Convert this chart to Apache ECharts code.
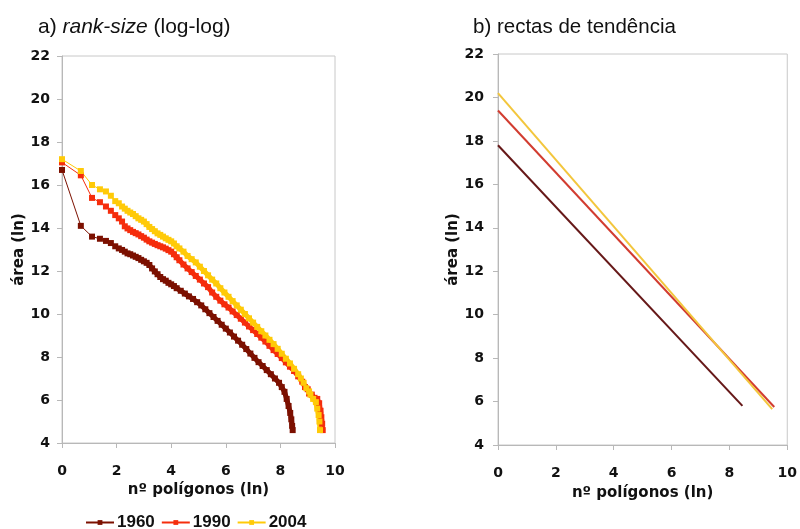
<!DOCTYPE html>
<html lang="pt">
<head>
    <meta charset="UTF-8">
    <script src="https://cdn.jsdelivr.net/npm/echarts@6/dist/echarts.min.js"></script>
    <title>rank-size</title>
    <style type="text/css">
        html, body { margin: 0; padding: 0; background: #fff; }
        #main { width: 800px; height: 529px; }
    </style>
</head>
<body>
<div id="main"></div>
<script type="text/javascript">
    // a) rank-size: [ln(rank), ln(area)]
    const years = ['1960', '1990', '2004'];

    const rank1960 = [[0,16.7],[0.69,14.1],[1.1,13.6],[1.39,13.5],[1.61,13.4],[1.79,13.3],[1.95,13.15],[2.08,13.05],[2.2,12.98],
        [2.3,12.9],[2.4,12.82],[2.5,12.78],[2.6,12.72],[2.7,12.66],[2.8,12.6],[2.9,12.52],[3.0,12.45],[3.1,12.38],[3.2,12.28],
        [3.3,12.12],[3.4,11.98],[3.5,11.85],[3.6,11.72],[3.7,11.62],[3.8,11.55],[3.9,11.45],[4.0,11.38],[4.1,11.3],[4.2,11.2],
        [4.35,11.08],[4.5,10.95],[4.65,10.82],[4.8,10.7],[4.95,10.55],[5.1,10.4],[5.25,10.22],[5.4,10.04],[5.55,9.86],[5.7,9.68],
        [5.85,9.5],[6.0,9.32],[6.15,9.14],[6.3,8.95],[6.45,8.76],[6.6,8.57],[6.75,8.37],[6.9,8.16],[7.05,7.96],[7.2,7.76],
        [7.35,7.58],[7.5,7.39],[7.65,7.2],[7.8,7.0],[7.95,6.8],[8.05,6.6],[8.15,6.38],[8.23,6.05],[8.3,5.72],[8.36,5.4],
        [8.4,5.1],[8.43,4.8],[8.45,4.6]];

    const rank1990 = [[0,17.05],[0.69,16.45],[1.1,15.4],[1.39,15.2],[1.61,15.0],[1.79,14.8],[1.95,14.6],[2.08,14.45],[2.2,14.3],
        [2.3,14.08],[2.4,13.98],[2.5,13.9],[2.6,13.82],[2.7,13.76],[2.8,13.7],[2.9,13.62],[3.0,13.55],[3.1,13.46],[3.2,13.38],
        [3.3,13.32],[3.4,13.26],[3.5,13.2],[3.6,13.15],[3.7,13.1],[3.8,13.04],[3.9,12.97],[4.0,12.9],[4.1,12.78],[4.2,12.64],
        [4.3,12.5],[4.45,12.3],[4.6,12.12],[4.75,11.95],[4.9,11.77],[5.05,11.6],[5.2,11.42],[5.35,11.25],[5.5,11.0],[5.65,10.8],
        [5.8,10.62],[5.95,10.45],[6.1,10.3],[6.25,10.12],[6.4,9.95],[6.55,9.78],[6.7,9.6],[6.85,9.42],[7.0,9.25],[7.15,9.07],
        [7.3,8.9],[7.45,8.72],[7.6,8.52],[7.75,8.32],[7.9,8.14],[8.05,7.95],[8.2,7.75],[8.35,7.55],[8.5,7.35],[8.65,7.1],
        [8.8,6.85],[8.9,6.6],[9.0,6.5],[9.05,6.3],[9.15,6.25],[9.25,6.1],[9.35,6.05],[9.42,5.85],[9.47,5.5],[9.5,5.2],
        [9.53,4.9],[9.55,4.6]];

    const rank2004 = [[0,17.2],[0.69,16.65],[1.1,16.0],[1.39,15.8],[1.61,15.7],[1.79,15.5],[1.95,15.25],[2.08,15.15],[2.2,15.0],
        [2.3,14.9],[2.4,14.8],[2.5,14.72],[2.6,14.65],[2.7,14.55],[2.8,14.45],[2.9,14.38],[3.0,14.3],[3.1,14.18],[3.2,14.05],
        [3.3,13.95],[3.4,13.85],[3.5,13.75],[3.6,13.68],[3.7,13.6],[3.8,13.52],[3.9,13.45],[4.0,13.38],[4.1,13.28],[4.2,13.15],
        [4.3,13.05],[4.45,12.9],[4.6,12.7],[4.75,12.55],[4.9,12.4],[5.05,12.2],[5.2,12.0],[5.35,11.8],[5.5,11.6],[5.65,11.42],
        [5.8,11.2],[5.95,11.0],[6.1,10.8],[6.25,10.6],[6.4,10.4],[6.55,10.2],[6.7,10.0],[6.85,9.8],[7.0,9.6],[7.15,9.4],
        [7.3,9.2],[7.45,9.0],[7.6,8.8],[7.75,8.6],[7.9,8.38],[8.05,8.15],[8.2,7.92],[8.35,7.7],[8.5,7.45],[8.65,7.2],
        [8.75,7.0],[8.85,6.8],[8.95,6.55],[9.05,6.4],[9.1,6.25],[9.2,6.05],[9.3,5.9],[9.35,5.6],[9.4,5.3],[9.43,5.0],[9.45,4.6]];

    // b) rectas de tendência (start / end points)
    const trend1960 = [[0,17.8],[8.45,5.8]];
    const trend1990 = [[0,19.4],[9.55,5.75]];
    const trend2004 = [[0,20.2],[9.48,5.65]];

    const xTicks = [0, 2, 4, 6, 8, 10];
    const yTicks = [4, 6, 8, 10, 12, 14, 16, 18, 20, 22];

    const rankColors = ['#7c1000', '#f52d0c', '#ffca08'];
    const trendColors = ['#661818', '#d23c30', '#f3c63c'];

    const font = 'Liberation Sans, Arial, sans-serif';
    const boldFont = 'DejaVu Sans, Liberation Sans, sans-serif';

    function makeX(gridIndex, nameGap, margin) {
        return {
            type: 'value', gridIndex: gridIndex,
            min: xTicks[0], max: xTicks[xTicks.length - 1], interval: 2,
            name: 'nº polígonos (ln)', nameLocation: 'middle', nameGap: nameGap,
            nameTextStyle: { fontFamily: boldFont, fontWeight: 'bold', fontSize: 15, color: '#111' },
            axisLine: { lineStyle: { color: '#b8b8b8' } },
            axisTick: { show: true, length: 5, lineStyle: { color: '#b8b8b8' } },
            axisLabel: { fontFamily: boldFont, fontWeight: 'bold', fontSize: 14, color: '#111', margin: margin },
            splitLine: { show: false }
        };
    }

    function makeY(gridIndex, nameGap, margin) {
        return {
            type: 'value', gridIndex: gridIndex,
            min: yTicks[0], max: yTicks[yTicks.length - 1], interval: 2,
            name: 'área (ln)', nameLocation: 'middle', nameGap: nameGap,
            nameTextStyle: { fontFamily: boldFont, fontWeight: 'bold', fontSize: 15, color: '#111' },
            axisLine: { show: true, lineStyle: { color: '#b8b8b8' } },
            axisTick: { show: true, length: 5, lineStyle: { color: '#b8b8b8' } },
            axisLabel: { fontFamily: boldFont, fontWeight: 'bold', fontSize: 14, color: '#111', margin: margin },
            splitLine: { show: false }
        };
    }

    const series = [];
    [rank1960, rank1990, rank2004].forEach(function (d, i) {
        series.push({
            name: years[i], type: 'line', xAxisIndex: 0, yAxisIndex: 0,
            data: d, symbol: 'rect', symbolSize: 6, showSymbol: true,
            itemStyle: { color: rankColors[i] },
            lineStyle: { color: rankColors[i], width: 1 },
            animation: false
        });
        // the many small polygons pile up into a thick band
        series.push({
            name: years[i], type: 'line', xAxisIndex: 0, yAxisIndex: 0,
            data: d.filter(function (p) { return p[0] >= 2.5; }), symbol: 'none',
            lineStyle: { color: rankColors[i], width: 5 },
            animation: false
        });
    });
    [trend1960, trend1990, trend2004].forEach(function (d, i) {
        series.push({
            name: 't' + years[i], type: 'line', xAxisIndex: 1, yAxisIndex: 1,
            data: d, symbol: 'none',
            lineStyle: { color: trendColors[i], width: 2 },
            animation: false
        });
    });

    const myChart = echarts.init(document.getElementById('main'));
    const option = {
        backgroundColor: '#fff',
        title: [{
            text: 'a) {i|rank-size} (log-log)', left: 33, top: 12,
            textStyle: {
                fontFamily: font, fontWeight: 'normal', fontSize: 21, color: '#111',
                rich: { i: { fontFamily: font, fontStyle: 'italic', fontSize: 21, color: '#111' } }
            }
        }, {
            text: 'b) rectas de tendência', left: 468, top: 12,
            textStyle: { fontFamily: font, fontWeight: 'normal', fontSize: 20.5, color: '#111' }
        }],
        legend: {
            data: years, left: 80, top: 509, itemGap: 6, itemWidth: 28, itemHeight: 6,
            textStyle: { fontFamily: font, fontWeight: 'bold', fontSize: 17, color: '#111', padding: [0, 0, 0, -2] }
        },
        grid: [
            { left: 62, right: 465, top: 56, bottom: 86, show: true, borderColor: '#c8c8c8', borderWidth: 1 },
            { left: 498, right: 11, top: 54, bottom: 84, show: true, borderColor: '#c8c8c8', borderWidth: 1 }
        ],
        xAxis: [makeX(0, 38, 21), makeX(1, 41, 21)],
        yAxis: [makeY(0, 35, 12), makeY(1, 35, 14)],
        series: series
    };
    myChart.setOption(option);
</script>
</body>
</html>
